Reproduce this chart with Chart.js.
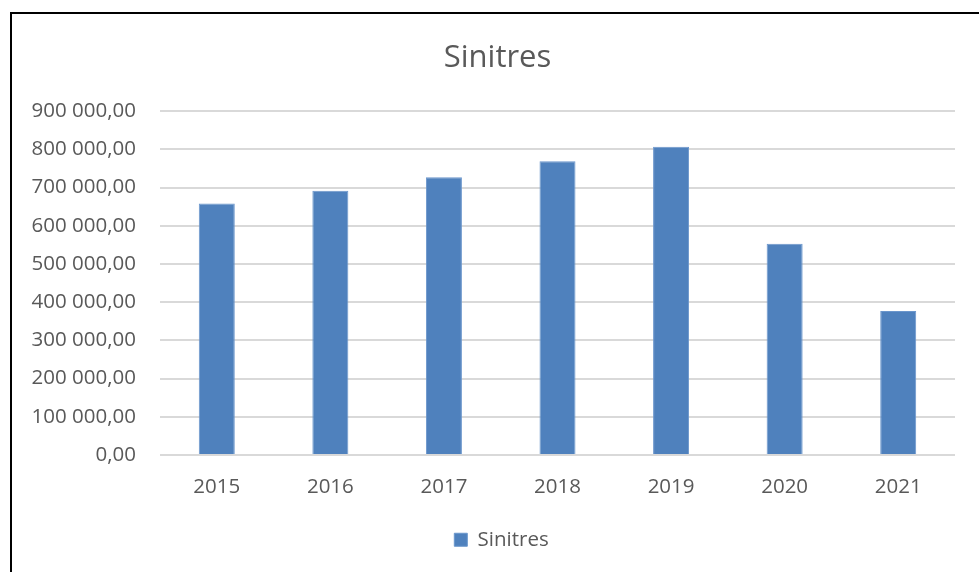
<!DOCTYPE html>
<html>
<head>
<meta charset="utf-8">
<script src="https://cdn.jsdelivr.net/npm/chart.js@4.4.0/dist/chart.umd.min.js"></script>
<style>
  html, body { margin: 0; padding: 0; background: #ffffff; }
  #wrap { position: relative; width: 979px; height: 572px; }
  canvas { display: block; }
</style>
</head>
<body>
<div id="wrap"><canvas id="c" width="979" height="572"></canvas></div>
<script>
// Yearly claims totals
const categories = ['2015', '2016', '2017', '2018', '2019', '2020', '2021'];
const sinitres = [658600, 692000, 727000, 769000, 807000, 553000, 377000];
const yTicks = [0, 100000, 200000, 300000, 400000, 500000, 600000, 700000, 800000, 900000];

const FONT = '"Open Sans", Lato, sans-serif';
const TEXT = '#595959';

function fmt(v) {
  const s = Math.round(v).toString().replace(/\B(?=(\d{3})+(?!\d))/g, ' ');
  return s + ',00';
}

// Frame line along the left and top edges of the chart box
const framePlugin = {
  id: 'frame',
  afterLayout(chart) {
    // centre title and legend within the frame rather than the canvas
    const t = chart.titleBlock;
    if (t) { t.left += 20; t.right += 20; }
    const lg = chart.legend;
    if (lg) { lg.left += 24; lg.right += 24; }
  },
  afterDraw(chart) {
    const ctx = chart.ctx;
    ctx.save();
    ctx.strokeStyle = '#000000';
    ctx.lineWidth = 2;
    ctx.beginPath();
    ctx.moveTo(11, chart.height);
    ctx.lineTo(11, 13);
    ctx.lineTo(chart.width, 13);
    ctx.stroke();
    ctx.restore();
  }
};

new Chart(document.getElementById('c'), {
  type: 'bar',
  data: {
    labels: categories,
    datasets: [{
      label: 'Sinitres',
      data: sinitres,
      backgroundColor: '#4f81bd',
      borderColor: '#6b96cc',
      borderWidth: 1,
      barPercentage: 0.317,
      categoryPercentage: 1.0
    }]
  },
  options: {
    responsive: false,
    animation: false,
    layout: { padding: { left: 0, right: 24, top: 40, bottom: 12 } },
    plugins: {
      title: {
        display: true,
        text: 'Sinitres',
        color: TEXT,
        font: { family: FONT, size: 31, weight: 'normal' },
        padding: { top: 0, bottom: 34 }
      },
      legend: {
        display: true,
        position: 'bottom',
        labels: {
          color: TEXT,
          font: { family: FONT, size: 20.5 },
          boxWidth: 13,
          boxHeight: 13,
          padding: 10
        }
      },
      tooltip: { enabled: false }
    },
    scales: {
      x: {
        grid: { display: false, drawTicks: false },
        border: { display: false },
        ticks: { color: TEXT, font: { family: FONT, size: 20.5 }, padding: 20 }
      },
      y: {
        min: 0,
        max: 900000,
        afterBuildTicks(scale) { scale.ticks = yTicks.map(v => ({ value: v })); },
        afterFit(scale) { scale.width = 160; },
        grid: { color: '#d9d9d9', lineWidth: 2, drawTicks: false },
        border: { display: false },
        ticks: {
          color: TEXT,
          font: { family: FONT, size: 20.5 },
          padding: 24,
          callback: v => fmt(v)
        }
      }
    }
  },
  plugins: [framePlugin]
});
</script>
</body>
</html>
